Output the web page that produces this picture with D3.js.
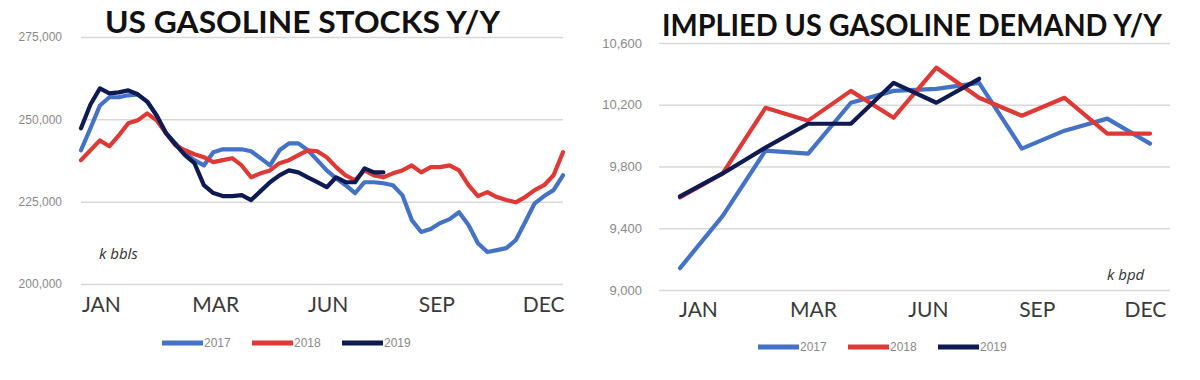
<!DOCTYPE html>
<html>
<head>
<meta charset="utf-8">
<script src="https://cdn.jsdelivr.net/npm/d3@7"></script>
<style>
  html, body { margin: 0; padding: 0; background: #ffffff; }
  svg { display: block; }
</style>
</head>
<body>
<svg id="chart" width="1200" height="380"></svg>
<script>
// ---------- DATA ----------
const seriesNames = ["2017", "2018", "2019"];

// Left chart: weekly US gasoline stocks (k bbls)
const stocks2017 = [240.6,247.3,254.2,256.7,256.7,257.3,257.6,255.4,251.2,245.8,242.7,239.7,237.6,236.0,240.0,240.9,240.9,240.9,240.3,238.2,236.0,240.6,242.7,242.7,240.6,237.6,234.5,232.1,230.0,227.6,230.9,230.9,230.6,230.0,227.0,219.4,215.8,216.7,218.5,219.7,221.8,217.9,212.4,209.7,210.3,210.9,213.3,218.8,224.5,226.7,228.5,233.0].map(v => v * 1000);
const stocks2018 = [237.6,240.6,243.6,241.8,245.1,248.8,249.7,251.8,249.7,245.8,242.1,240.6,239.4,238.5,237.0,237.6,238.2,236.0,232.4,233.6,234.5,236.7,237.6,239.1,240.6,240.3,238.5,235.5,233.0,231.5,234.5,233.0,232.4,233.6,234.5,236.0,233.9,235.5,235.5,236.0,234.5,230.0,226.7,227.9,226.4,225.5,224.8,226.4,228.5,230.0,233.0,240.0].map(v => v * 1000);
const stocks2019 = [247.3,254.5,259.4,257.9,258.2,258.8,257.6,255.4,251.2,245.8,242.4,239.1,236.7,230.0,227.6,226.7,226.7,227.0,225.5,228.2,230.9,233.0,234.5,233.9,232.4,230.9,229.4,232.4,230.9,230.9,235.1,233.9,233.9].map(v => v * 1000);
const stocksTicks = [200000, 225000, 250000, 275000];
const stocksMonthLabels = ["JAN", "MAR", "JUN", "SEP", "DEC"];
const stocksMonthPos = [2.1, 14.2, 26.1, 37.6, 48.9];   // week index of each label

// Right chart: monthly implied gasoline demand (k bpd)
const demand2017 = [9142, 9480, 9903, 9884, 10213, 10290, 10303, 10342, 9916, 10032, 10110, 9948];
const demand2018 = [9600, 9755, 10180, 10097, 10290, 10116, 10440, 10245, 10129, 10245, 10013, 10013];
const demand2019 = [9606, 9755, 9922, 10077, 10077, 10342, 10213, 10368];
const demandTicks = [9000, 9400, 9800, 10200, 10600];
const demandMonthLabels = ["JAN", "MAR", "JUN", "SEP", "DEC"];
const demandMonthPos = [0.42, 3.11, 5.8, 8.35, 10.88];   // month index of each label

const colors = { "2017": "#4472C4", "2018": "#DD3A36", "2019": "#0E1A52" };

// ---------- DRAW ----------
const svg = d3.select("#chart");
const fmt = d3.format(",");

function panel(cfg) {
  const g = svg.append("g");
  const x = d3.scaleLinear().domain(cfg.xDomain).range(cfg.xRange);
  const y = d3.scaleLinear().domain(cfg.yDomain).range(cfg.yRange);

  // gridlines + y labels
  const yAxis = d3.axisLeft(y).tickValues(cfg.yTicks).tickFormat(fmt)
    .tickSize(-(cfg.gridRange[1] - cfg.gridRange[0])).tickPadding(cfg.yPad);
  const ya = g.append("g").attr("transform", `translate(${cfg.gridRange[0]},0)`).call(yAxis);
  ya.select(".domain").remove();
  ya.selectAll(".tick line").attr("stroke", "#d9d9d9").attr("stroke-width", 1.5);
  ya.selectAll(".tick text").attr("fill", "#8a8a8a")
    .style("font-family", "'Liberation Sans', Arial, sans-serif").style("font-size", cfg.yFont + "px");

  // title
  g.append("text").text(cfg.title)
    .attr("x", cfg.titleX).attr("y", cfg.titleY)
    .attr("textLength", cfg.titleW).attr("lengthAdjust", "spacingAndGlyphs")
    .style("font-family", "Lato, 'Open Sans', sans-serif").style("font-weight", "700")
    .style("font-size", "30px").attr("fill", "#111111");

  // x labels
  const xAxis = d3.axisBottom(x).tickValues(cfg.xTickPos)
    .tickFormat((d, i) => cfg.xTickLabels[i]).tickSize(0).tickPadding(0);
  const xa = g.append("g").attr("transform", `translate(0,${cfg.xLabelY})`).call(xAxis);
  xa.select(".domain").remove();
  xa.selectAll(".tick text").attr("fill", "#3a3a3a").attr("dy", "0.35em")
    .style("font-family", "Lato, 'Open Sans', sans-serif").style("font-size", "21px");

  // unit label
  g.append("text").text(cfg.unit).attr("x", cfg.unitX).attr("y", cfg.unitY)
    .attr("dy", "0.35em")
    .style("font-family", "'Open Sans', sans-serif").style("font-style", "italic")
    .style("font-size", "15px").attr("fill", "#333333");

  // lines
  const line = d3.line().x((d, i) => x(i)).y(d => y(d));
  cfg.series.forEach(s => {
    g.append("path").datum(s.values)
      .attr("d", line).attr("fill", "none")
      .attr("stroke", colors[s.name]).attr("stroke-width", 4.2)
      .attr("stroke-linejoin", "round").attr("stroke-linecap", "round");
  });

  // legend
  const lg = g.append("g").attr("transform", `translate(${cfg.legendX},${cfg.legendY})`);
  seriesNames.forEach((n, i) => {
    const ox = i * 90;
    lg.append("line").attr("x1", ox).attr("x2", ox + 41).attr("y1", 0).attr("y2", 0)
      .attr("stroke", colors[n]).attr("stroke-width", 5);
    lg.append("text").text(n).attr("x", ox + 42).attr("y", 0).attr("dy", "0.35em")
      .style("font-family", "'Liberation Sans', Arial, sans-serif").style("font-size", "12px")
      .attr("fill", "#8a8a8a");
  });
}

panel({
  title: "US GASOLINE STOCKS Y/Y", titleX: 105, titleY: 33, titleW: 395,
  xDomain: [0, 51], xRange: [81, 563], gridRange: [81, 563],
  yDomain: [200000, 275000], yRange: [284, 37], yTicks: stocksTicks, yPad: 19, yFont: 12,
  xTickPos: stocksMonthPos, xTickLabels: stocksMonthLabels, xLabelY: 305,
  unit: "k bbls", unitX: 99, unitY: 254,
  series: [{name: "2017", values: stocks2017}, {name: "2018", values: stocks2018}, {name: "2019", values: stocks2019}],
  legendX: 162, legendY: 343
});

panel({
  title: "IMPLIED US GASOLINE DEMAND Y/Y", titleX: 662, titleY: 36, titleW: 500,
  xDomain: [0, 11], xRange: [680, 1150], gridRange: [659, 1170],
  yDomain: [9000, 10600], yRange: [290, 43], yTicks: demandTicks, yPad: 17, yFont: 13,
  xTickPos: demandMonthPos, xTickLabels: demandMonthLabels, xLabelY: 310,
  unit: "k bpd", unitX: 1107, unitY: 275,
  series: [{name: "2017", values: demand2017}, {name: "2018", values: demand2018}, {name: "2019", values: demand2019}],
  legendX: 758, legendY: 347
});
</script>
</body>
</html>
